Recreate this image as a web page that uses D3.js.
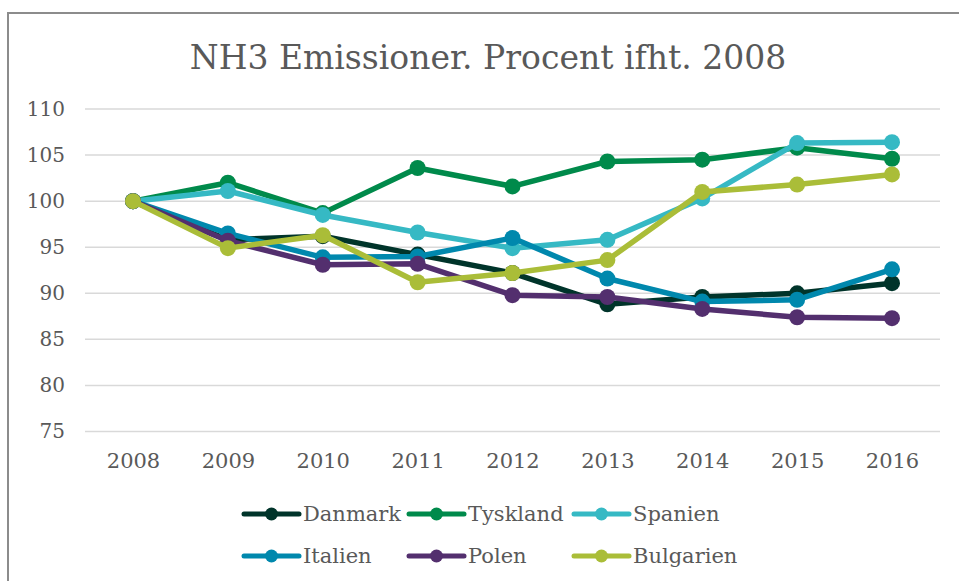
<!DOCTYPE html>
<html>
<head>
<meta charset="utf-8">
<script src="https://cdn.jsdelivr.net/npm/d3@7"></script>
<style>
  html, body { margin: 0; padding: 0; background: #fff; }
  svg { display: block; }
  text { font-family: "DejaVu Serif", Georgia, serif; fill: #595959; }
</style>
</head>
<body>
<svg id="chart" width="959" height="581"></svg>
<script>
const years = [2008, 2009, 2010, 2011, 2012, 2013, 2014, 2015, 2016];
const yTicks = [75, 80, 85, 90, 95, 100, 105, 110];
const seriesNames = ["Danmark", "Tyskland", "Spanien", "Italien", "Polen", "Bulgarien"];
const danmark   = [100, 95.8, 96.2, 94.2, 92.2, 88.8, 89.6, 90.0, 91.1];
const tyskland  = [100, 102.0, 98.7, 103.6, 101.6, 104.3, 104.5, 105.8, 104.6];
const spanien   = [100, 101.1, 98.5, 96.6, 94.9, 95.8, 100.3, 106.3, 106.4];
const italien   = [100, 96.5, 93.9, 94.0, 96.0, 91.6, 89.1, 89.3, 92.6];
const polen     = [100, 95.7, 93.1, 93.2, 89.8, 89.6, 88.3, 87.4, 87.3];
const bulgarien = [100, 94.9, 96.3, 91.2, 92.2, 93.6, 101.0, 101.8, 102.9];
const colors = ["#00342A", "#008A4B", "#36B9C4", "#0088AD", "#532F6E", "#AABD38"];
const values = [danmark, tyskland, spanien, italien, polen, bulgarien];

const svg = d3.select("#chart");

// outer frame
svg.append("rect").attr("x", 8).attr("y", 13).attr("width", 960).attr("height", 580)
  .attr("fill", "#fff").attr("stroke", "#8c8c8c").attr("stroke-width", 2);

// title
svg.append("text").attr("x", 488).attr("y", 69).attr("text-anchor", "middle")
  .style("font-size", "33px").text("NH3 Emissioner. Procent ifht. 2008");

const x = d3.scalePoint().domain(years).range([133, 892]);
const y = d3.scaleLinear().domain([75, 110]).range([431.5, 109]);

// gridlines
svg.append("g").selectAll("line").data(yTicks).join("line")
  .attr("x1", 85).attr("x2", 940)
  .attr("y1", d => y(d)).attr("y2", d => y(d))
  .attr("stroke", "#d9d9d9").attr("stroke-width", 1.5);

// y axis labels
const yAxis = d3.axisLeft(y).tickValues(yTicks).tickSize(0).tickPadding(0);
const yg = svg.append("g").attr("transform", "translate(65,0)").call(yAxis);
yg.select(".domain").remove();
yg.selectAll("text").style("font-size", "20px").attr("font-family", null).attr("fill", "#595959");

// x axis labels
const xAxis = d3.axisBottom(x).tickSize(0).tickPadding(0).tickFormat(d3.format("d"));
const xg = svg.append("g").attr("transform", "translate(0,453)").call(xAxis);
xg.select(".domain").remove();
xg.selectAll("text").style("font-size", "21px").attr("font-family", null).attr("fill", "#595959");

// lines
const line = d3.line().x((d, i) => x(years[i])).y(d => y(d));
const series = seriesNames.map((name, k) => ({ name, color: colors[k], vals: values[k] }));

const g = svg.append("g");
series.forEach(s => {
  g.append("path").datum(s.vals).attr("d", line)
    .attr("fill", "none").attr("stroke", s.color).attr("stroke-width", 5.5)
    .attr("stroke-linejoin", "round").attr("stroke-linecap", "round");
  g.selectAll(null).data(s.vals).join("circle")
    .attr("cx", (d, i) => x(years[i])).attr("cy", d => y(d)).attr("r", 8)
    .attr("fill", s.color);
});

// legend
const legCols = [244, 409, 574];
const legRows = [514, 556];
const lg = svg.append("g");
series.forEach((s, k) => {
  const lx = legCols[k % 3], ly = legRows[Math.floor(k / 3)];
  lg.append("line").attr("x1", lx).attr("x2", lx + 55).attr("y1", ly).attr("y2", ly)
    .attr("stroke", s.color).attr("stroke-width", 5).attr("stroke-linecap", "round");
  lg.append("circle").attr("cx", lx + 27.5).attr("cy", ly).attr("r", 6.5).attr("fill", s.color);
  lg.append("text").attr("x", lx + 59).attr("y", ly).attr("dy", "0.35em")
    .style("font-size", "21px").text(s.name);
});
</script>
</body>
</html>
